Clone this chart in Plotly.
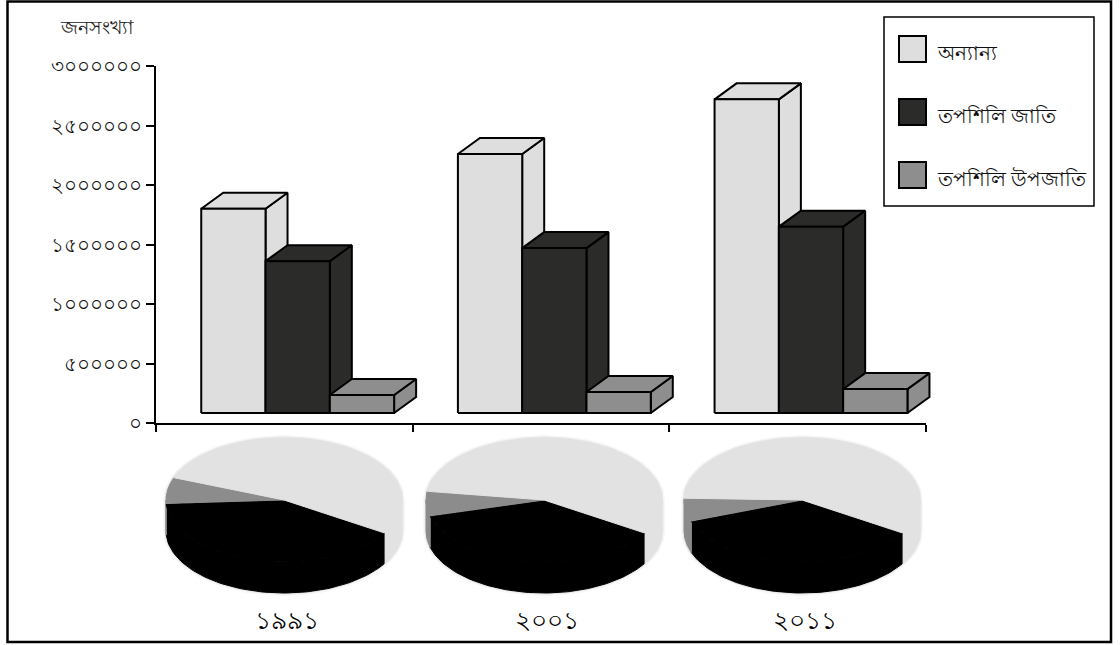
import numpy as np
import plotly.graph_objects as go

# Population by census year and social group
years = ["১৯৯১", "২০০১", "২০১১"]
series_names = ["অন্যান্য", "তপশিলি জাতি", "তপশিলি উপজাতি"]
others = [1800000, 2260000, 2720000]
scheduled_caste = [1360000, 1470000, 1650000]
scheduled_tribe = [235000, 260000, 285000]
series_values = [others, scheduled_caste, scheduled_tribe]
tick_values = [0, 500000, 1000000, 1500000, 2000000, 2500000, 3000000]
tick_labels = ["০", "৫০০০০০", "১০০০০০০", "১৫০০০০০", "২০০০০০০", "২৫০০০০০", "৩০০০০০০"]
axis_title = "জনসংখ্যা"

FONT = "Noto Sans, Liberation Serif, DejaVu Serif, serif"
LIGHT, DARK, MID = "#dedede", "#2b2b2a", "#8e8e8e"
face_colors = [LIGHT, DARK, MID]

W, H = 1120, 645
X0, X1, Y0, Y1 = 156, 926, 423, 66
X_EXT = 945  # columns' drawing area runs past the last tick to fit the box depth

# Box geometry in data units
CATEGORY_PX = (X1 - X0) / 3
FLOOR = 84000
DEPTH_X = 22 / CATEGORY_PX
DEPTH_Y = 16 / ((Y0 - Y1) / 3000000)
BAR_W = 0.2505
GROUP_SHIFT = 0.052


def polygon(xs, ys, color, xaxis="x3", yaxis="y3", line_w=2, line_color="#000000"):
    return go.Scatter(
        x=list(xs) + [xs[0]], y=list(ys) + [ys[0]], xaxis=xaxis, yaxis=yaxis,
        mode="lines", fill="toself", fillcolor=color,
        line=dict(color=line_color, width=line_w), cliponaxis=False,
        hoverinfo="skip", showlegend=False,
    )


fig = go.Figure()

# Empty trace keeps the visible axes in the figure
fig.add_trace(go.Scatter(x=[], y=[], xaxis="x", yaxis="y", showlegend=False, hoverinfo="skip"))

# 3-D style clustered columns: side, top, then front face of each box
for g in range(len(years)):
    for s, values in enumerate(series_values):
        v = values[g]
        left = g + GROUP_SHIFT + (s - 1.5) * BAR_W
        right = left + BAR_W
        c = face_colors[s]
        fig.add_trace(polygon(
            [right, right + DEPTH_X, right + DEPTH_X, right],
            [FLOOR, FLOOR + DEPTH_Y, v + DEPTH_Y, v], c))
        fig.add_trace(polygon(
            [left, left + DEPTH_X, right + DEPTH_X, right],
            [v, v + DEPTH_Y, v + DEPTH_Y, v], c))
        fig.add_trace(polygon([left, right, right, left], [FLOOR, FLOOR, v, v], c))

# Share pies beneath each year, built from the same population figures
PIE_FILL = {"other": "#e2e2e2", "sc": "#000000", "st": "#8c8c8c"}
PIE_CENTERS = [284, 544, 802]
PIE_CY, PIE_A, PIE_B, PIE_WALL = 500, 118, 62, 31
START_DEG = -32


def ellipse_arc(cx, cy, a0, a1):
    t = np.radians(np.linspace(a0, a1, 80))
    return cx + PIE_A * np.cos(t), cy - PIE_B * np.sin(t)


def wall(cx, a0, a1, color):
    wx, wy = ellipse_arc(cx, PIE_CY, a0, a1)
    return polygon(list(wx) + list(wx[::-1]), list(wy) + list(wy[::-1] + PIE_WALL),
                   color, "x2", "y2", 1, color)


for g, cx in enumerate(PIE_CENTERS):
    total = others[g] + scheduled_caste[g] + scheduled_tribe[g]
    sc_end = START_DEG - 360 * scheduled_caste[g] / total
    st_end = sc_end - 360 * scheduled_tribe[g] / total
    # soft rim around the whole disc
    tx, ty = ellipse_arc(cx, PIE_CY, 0, 180)
    bx, by = ellipse_arc(cx, PIE_CY + PIE_WALL, 180, 360)
    for width, alpha in [(6, 0.05), (3, 0.12)]:
        fig.add_trace(go.Scatter(
            x=list(tx) + list(bx) + [tx[0]], y=list(ty) + list(by) + [ty[0]],
            xaxis="x2", yaxis="y2", mode="lines", hoverinfo="skip", showlegend=False,
            line=dict(color=f"rgba(120,120,120,{alpha})", width=width)))
    # outer wall, front half only
    fig.add_trace(wall(cx, 0, START_DEG, PIE_FILL["other"]))
    fig.add_trace(wall(cx, START_DEG, sc_end, PIE_FILL["sc"]))
    if sc_end > -180:
        fig.add_trace(wall(cx, sc_end, -180, PIE_FILL["st"]))
    # top surface
    for a0, a1, key in [(START_DEG, sc_end, "sc"), (sc_end, st_end, "st"),
                        (st_end, START_DEG - 360, "other")]:
        ax, ay = ellipse_arc(cx, PIE_CY, a0, a1)
        fig.add_trace(polygon([cx] + list(ax), [PIE_CY] + list(ay),
                              PIE_FILL[key], "x2", "y2", 1, PIE_FILL[key]))

shapes = [
    dict(type="rect", xref="x2", yref="y2", x0=7.5, y0=1.5, x1=1111, y1=642,
         line=dict(color="#000", width=2.5)),
    dict(type="rect", xref="x2", yref="y2", x0=884, y0=17, x1=1094, y1=206,
         line=dict(color="#000", width=1.5), fillcolor="#fff", layer="above"),
]
annotations = [
    dict(x=97, y=27, xref="x2", yref="y2", text=axis_title, showarrow=False,
         font=dict(size=19, family=FONT, color="#222")),
]
for i, name in enumerate(series_names):
    top = 36 + 63 * i
    shapes.append(dict(type="rect", xref="x2", yref="y2", x0=899, y0=top, x1=926, y1=top + 26,
                       fillcolor=face_colors[i], line=dict(color="#000", width=2), layer="above"))
    annotations.append(dict(x=935, y=top + 16, xref="x2", yref="y2", text=name, showarrow=False,
                            xanchor="left", font=dict(size=20, family=FONT, color="#111")))
for cx, label in zip(PIE_CENTERS, years):
    annotations.append(dict(x=cx + 3, y=619, xref="x2", yref="y2", text=label, showarrow=False,
                            font=dict(size=25, family=FONT, color="#000")))

y_common = dict(domain=[(H - Y0) / H, (H - Y1) / H], range=[0, 3000000])
fig.update_layout(
    width=W, height=H, margin=dict(l=0, r=0, t=0, b=0, autoexpand=False),
    paper_bgcolor="#fff", plot_bgcolor="rgba(0,0,0,0)", showlegend=False,
    shapes=shapes, annotations=annotations,
    xaxis=dict(domain=[X0 / W, X1 / W], range=[-0.5, 2.5], tickvals=[-0.5, 0.5, 1.5, 2.5],
               ticktext=["", "", "", ""], ticks="outside", ticklen=7, tickwidth=1.5, tickcolor="#000",
               showline=True, linecolor="#000", linewidth=1.5, showgrid=False, zeroline=False),
    yaxis=dict(tickvals=tick_values, ticktext=tick_labels, ticks="outside", ticklen=8,
               tickwidth=1.5, tickcolor="#000", tickfont=dict(size=20, family=FONT, color="#111"),
               showline=True, linecolor="#000", linewidth=1.5, showgrid=False, zeroline=False,
               **y_common),
    xaxis2=dict(domain=[0, 1], range=[0, W], anchor="y2", visible=False),
    yaxis2=dict(domain=[0, 1], range=[H, 0], anchor="x2", visible=False),
    xaxis3=dict(domain=[X0 / W, X_EXT / W], range=[-0.5, -0.5 + (X_EXT - X0) / CATEGORY_PX],
                anchor="y3", visible=False),
    yaxis3=dict(anchor="x3", visible=False, **y_common),
)

fig.write_html("out.html")
